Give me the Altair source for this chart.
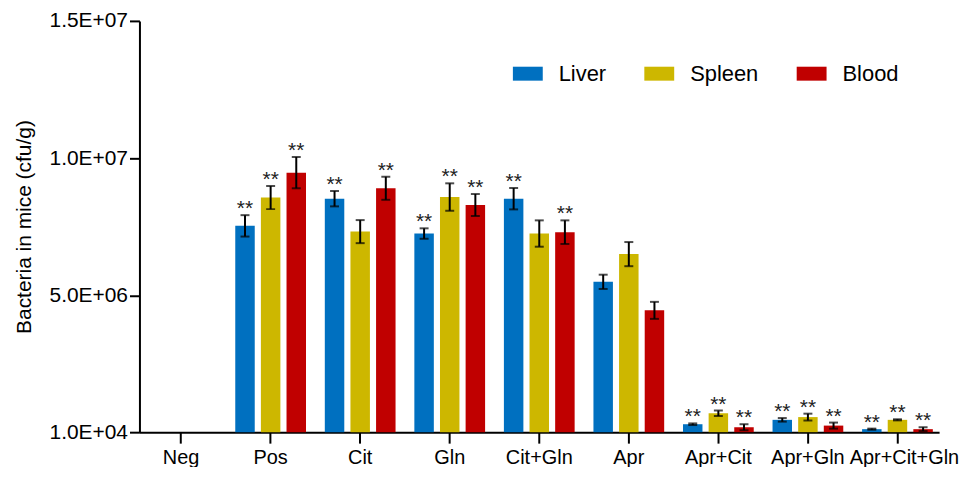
import altair as alt
import pandas as pd

categories = ["Neg", "Pos", "Cit", "Gln", "Cit+Gln", "Apr", "Apr+Cit", "Apr+Gln", "Apr+Cit+Gln"]
organs = ["Liver", "Spleen", "Blood"]
colors = ["#0070C0", "#CDB700", "#C00000"]

liver = [None, 7.53e6, 8.52e6, 7.25e6, 8.52e6, 5.49e6, 0.30e6, 0.46e6, 0.12e6]
liver_err = [None, 0.39e6, 0.28e6, 0.19e6, 0.39e6, 0.26e6, 0.03e6, 0.065e6, 0.02e6]
liver_sig = [False, True, True, True, True, False, True, True, True]

spleen = [None, 8.56e6, 7.32e6, 8.58e6, 7.25e6, 6.50e6, 0.70e6, 0.56e6, 0.46e6]
spleen_err = [None, 0.42e6, 0.42e6, 0.50e6, 0.48e6, 0.44e6, 0.10e6, 0.125e6, 0.02e6]
spleen_sig = [False, True, False, True, False, False, True, True, True]

blood = [None, 9.47e6, 8.90e6, 8.29e6, 7.30e6, 4.45e6, 0.19e6, 0.25e6, 0.12e6]
blood_err = [None, 0.57e6, 0.42e6, 0.40e6, 0.43e6, 0.31e6, 0.11e6, 0.11e6, 0.07e6]
blood_sig = [False, True, True, True, True, False, True, True, True]

y_ticks = [1e4, 5e6, 1e7, 1.5e7]
y_tick_labels = ["1.0E+04", "5.0E+06", "1.0E+07", "1.5E+07"]

rows = []
for organ, vals, errs, sigs in [("Liver", liver, liver_err, liver_sig),
                                ("Spleen", spleen, spleen_err, spleen_sig),
                                ("Blood", blood, blood_err, blood_sig)]:
    for c, v, e, s in zip(categories, vals, errs, sigs):
        if v is None:
            continue
        rows.append({"cat": c, "organ": organ, "value": v,
                     "lo": v - e, "hi": v + e, "star": "**" if s else ""})
df = pd.DataFrame(rows)

label_expr = " : ".join(
    [f"datum.value == {int(t)} ? '{l}'" for t, l in zip(y_ticks, y_tick_labels)]
) + " : ''"

FONT = "Liberation Sans"

x_enc = alt.X("cat:N", sort=categories,
              scale=alt.Scale(domain=categories, paddingInner=0.21, paddingOuter=0.07),
              axis=alt.Axis(title=None, labelAngle=0, labelFontSize=20, labelFont=FONT,
                            labelColor="black", tickSize=11, tickWidth=2, tickColor="black",
                            domainWidth=2, domainColor="black", labelPadding=4,
                            labelOffset={"condition": {"test": "datum.value == 'Apr+Cit+Gln'",
                                                       "value": 7}, "value": 0}))
xoff = alt.XOffset("organ:N", sort=organs,
                   scale=alt.Scale(domain=organs, paddingInner=0.24, paddingOuter=0))
y_scale = alt.Scale(domain=[1e4, 1.5e7], zero=False, nice=False)

bars = alt.Chart(df).mark_bar().encode(
    x=x_enc,
    xOffset=xoff,
    y=alt.Y("value:Q", scale=y_scale,
            axis=alt.Axis(title="Bacteria in mice (cfu/g)", values=y_ticks, labelExpr=label_expr,
                          grid=False, labelFontSize=21, labelFont=FONT, labelColor="black",
                          titleFontSize=21, titleFont=FONT, titleFontWeight="normal",
                          titleColor="black", tickSize=10, tickWidth=2, tickColor="black",
                          domainWidth=2, domainColor="black", labelPadding=2,
                          titlePadding=15)),
    y2=alt.datum(1e4),
    color=alt.Color("organ:N", sort=organs,
                    scale=alt.Scale(domain=organs, range=colors),
                    legend=alt.Legend(title=None, orient="none", legendX=375, legendY=38,
                                      direction="horizontal",
                                      symbolType="M-1,-0.467H1V0.467H-1Z", symbolSize=900,
                                      symbolStrokeWidth=0, labelFontSize=22, labelFont=FONT,
                                      labelColor="black", labelOffset=16, columnPadding=38,
                                      padding=0)),
)

rules = alt.Chart(df).mark_rule(color="black", strokeWidth=2).encode(
    x=alt.X("cat:N", sort=categories), xOffset=alt.XOffset("organ:N", sort=organs),
    y=alt.Y("lo:Q"), y2="hi:Q",
)
caps_hi = alt.Chart(df).mark_tick(color="black", thickness=2, size=9, orient="horizontal").encode(
    x=alt.X("cat:N", sort=categories), xOffset=alt.XOffset("organ:N", sort=organs),
    y=alt.Y("hi:Q"),
)
caps_lo = alt.Chart(df).mark_tick(color="black", thickness=2, size=9, orient="horizontal").encode(
    x=alt.X("cat:N", sort=categories), xOffset=alt.XOffset("organ:N", sort=organs),
    y=alt.Y("lo:Q"),
)
stars = alt.Chart(df).mark_text(fontSize=21, font=FONT, color="#222222", dy=0,
                                baseline="alphabetic").encode(
    x=alt.X("cat:N", sort=categories), xOffset=alt.XOffset("organ:N", sort=organs),
    y=alt.Y("hi:Q"), text="star:N",
)

chart = alt.layer(bars, rules, caps_hi, caps_lo, stars).properties(
    width=803, height=413,
    autosize=alt.AutoSizeParams(type="none"),
    padding={"left": 132, "top": 12, "right": 22, "bottom": 34},
).configure_view(stroke=None)

chart.save("out.html", embed_options={"renderer": "svg", "actions": False})
